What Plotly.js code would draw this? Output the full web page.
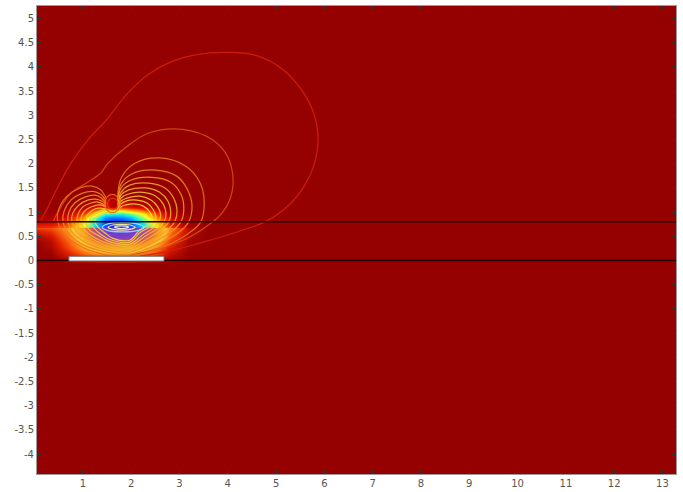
<!DOCTYPE html>
<html><head><meta charset="utf-8">
<script src="https://cdn.plot.ly/plotly-3.0.1.min.js"></script>
<style>html,body{margin:0;padding:0;background:#fff}#plot{width:683px;height:492px}</style>
</head><body><div id="plot"></div>
<script>
// ---- ticks ----
const xTickVals = [1,2,3,4,5,6,7,8,9,10,11,12,13];
const yTickVals = [-4,-3.5,-3,-2.5,-2,-1.5,-1,-0.5,0,0.5,1,1.5,2,2.5,3,3.5,4,4.5,5];
const yTickText = ['-4','-3.5','-3','-2.5','-2','-1.5','-1','-0.5','0','0.5','1','1.5','2','2.5','3','3.5','4','4.5','5'];

// ---- geometry ----
const interfaceLevels = [0, 0.8];
const stripX = [0.71, 2.68];
const stripY = [-0.01, 0.09];

// ---- colour field (estimated from colours) ----
const fieldUpperX = [0.0,0.35,0.7,1.0,1.25,1.45,1.62,1.8,2.0,2.25,2.5,2.8,3.2,3.6];
const fieldUpperY = [0.72,0.80,0.88,0.96,1.04,1.12,1.22,1.34];
const fieldUpperZ = [
  [0.80,0.78,0.70,0.50,0.22,0.04,0.00,0.00,0.04,0.22,0.50,0.78,0.95,1],
  [0.90,0.88,0.76,0.56,0.24,0.03,0.00,0.00,0.06,0.28,0.54,0.80,0.96,1],
  [0.96,0.93,0.82,0.64,0.36,0.12,0.08,0.10,0.18,0.40,0.63,0.85,0.98,1],
  [1,0.97,0.88,0.75,0.55,0.32,0.30,0.28,0.36,0.52,0.72,0.91,0.99,1],
  [1,1,0.94,0.86,0.73,0.60,0.56,0.58,0.64,0.73,0.85,0.96,1,1],
  [1,1,0.98,0.93,0.86,0.80,0.95,0.80,0.84,0.88,0.93,0.99,1,1],
  [1,1,1,0.97,0.94,0.86,0.92,0.86,0.92,0.95,0.98,1,1,1],
  [1,1,1,1,0.99,0.97,0.97,0.97,0.98,0.99,1,1,1,1]
];
const fieldLowerX = [0.0,0.35,0.7,1.0,1.25,1.5,1.75,2.0,2.25,2.5,2.8,3.2,3.6];
const fieldLowerY = [0.02,0.14,0.26,0.38,0.50,0.62,0.70];
const fieldLowerZ = [
  [1,1,0.97,0.94,0.92,0.92,0.92,0.92,0.93,0.95,0.98,1,1],
  [1,0.99,0.90,0.80,0.74,0.72,0.72,0.72,0.75,0.82,0.94,1,1],
  [1,0.97,0.84,0.70,0.62,0.58,0.56,0.58,0.63,0.74,0.90,0.99,1],
  [1,0.95,0.80,0.64,0.48,0.34,0.28,0.32,0.42,0.62,0.85,0.98,1],
  [0.97,0.92,0.76,0.58,0.30,0.12,0.08,0.10,0.20,0.50,0.80,0.97,1],
  [0.90,0.86,0.72,0.54,0.22,0.06,0.03,0.05,0.14,0.42,0.76,0.96,1],
  [0.82,0.80,0.70,0.52,0.20,0.03,0.00,0.03,0.12,0.40,0.74,0.95,1]
];

// ---- contour lines ----
const contourC1X = [0.13,0.28,0.48,0.75,1.10,1.48,1.93,2.39,2.86,3.38,3.98,4.58,5.14,5.56,5.80,5.87,5.80,5.62,5.29,4.81,4.19,3.49,2.80,2.18];
const contourC1Y = [0.84,1.11,1.52,2.01,2.49,2.90,3.46,3.87,4.12,4.26,4.30,4.24,3.95,3.48,2.98,2.49,2.03,1.60,1.17,0.82,0.59,0.38,0.20,0.09];
const contourC2X = [0.38,0.54,0.75,1.10,1.37,1.52,1.89,2.35,3.07,3.69,4.00,4.11,4.04,3.88,3.69,3.22,2.80,2.39,1.97];
const contourC2Y = [0.80,1.10,1.39,1.62,1.81,2.01,2.34,2.63,2.71,2.49,2.14,1.66,1.25,0.98,0.80,0.49,0.32,0.20,0.11];

const lobe1X = [1.48,1.37,1.19,0.94,0.67,0.50,0.48,0.61,0.94,1.43,1.97,2.70,3.17,3.44,3.51,3.42,3.13,2.59,2.08,1.79,1.72];
const lobe1Y = [1.29,1.46,1.54,1.50,1.33,1.06,0.80,0.55,0.30,0.13,0.09,0.30,0.55,0.80,1.25,1.62,1.95,2.12,2.01,1.70,1.29];
const lobe2X = [1.48,1.37,1.21,0.98,0.75,0.61,0.59,0.71,1.02,1.48,1.97,2.55,2.97,3.19,3.26,3.17,2.95,2.51,2.01,1.79,1.72];
const lobe2Y = [1.23,1.37,1.43,1.39,1.25,1.02,0.80,0.55,0.32,0.18,0.13,0.34,0.57,0.80,1.13,1.46,1.74,1.87,1.79,1.58,1.23];
const lobe3X = [1.48,1.39,1.25,1.04,0.83,0.71,0.69,0.79,1.08,1.50,1.97,2.47,2.82,3.03,3.09,3.03,2.82,2.43,1.99,1.79,1.72];
const lobe3Y = [1.19,1.29,1.35,1.31,1.19,1.00,0.80,0.57,0.36,0.22,0.18,0.38,0.59,0.80,1.08,1.37,1.62,1.72,1.66,1.50,1.19];
const lobe4X = [1.48,1.39,1.27,1.10,0.92,0.79,0.77,0.88,1.14,1.52,1.97,2.41,2.72,2.90,2.95,2.88,2.70,2.37,1.97,1.79,1.72];
const lobe4Y = [1.17,1.23,1.27,1.25,1.15,0.98,0.80,0.59,0.40,0.26,0.22,0.42,0.61,0.80,1.04,1.29,1.50,1.60,1.56,1.41,1.17];
const lobe5X = [1.48,1.41,1.31,1.17,1.00,0.90,0.88,0.96,1.21,1.54,1.97,2.35,2.61,2.78,2.82,2.76,2.59,2.30,1.95,1.79,1.72];
const lobe5Y = [1.13,1.17,1.21,1.19,1.11,0.96,0.80,0.61,0.44,0.30,0.26,0.46,0.63,0.80,1.00,1.23,1.41,1.50,1.46,1.35,1.13];
const lobe6X = [1.48,1.43,1.35,1.23,1.08,0.98,0.96,1.04,1.27,1.56,1.97,2.30,2.53,2.68,2.72,2.66,2.51,2.24,1.93,1.79,1.72];
const lobe6Y = [1.11,1.13,1.15,1.13,1.06,0.94,0.80,0.63,0.46,0.34,0.30,0.51,0.65,0.80,0.98,1.17,1.33,1.41,1.37,1.29,1.11];
const lobe7X = [1.50,1.39,1.29,1.17,1.08,1.06,1.12,1.33,1.58,1.97,2.26,2.45,2.57,2.61,2.55,2.41,2.18,1.91,1.79,1.72];
const lobe7Y = [1.06,1.08,1.08,1.02,0.92,0.80,0.65,0.51,0.38,0.34,0.55,0.67,0.80,0.94,1.11,1.25,1.33,1.29,1.23,1.06];
const lobe8X = [1.52,1.43,1.35,1.25,1.17,1.14,1.23,1.39,1.60,1.97,2.20,2.37,2.49,2.51,2.45,2.33,2.12,1.89,1.79,1.72];
const lobe8Y = [1.04,1.04,1.02,0.98,0.90,0.80,0.67,0.53,0.42,0.38,0.59,0.69,0.80,0.92,1.06,1.19,1.25,1.23,1.17,1.04];
const lobe9X = [1.56,1.50,1.41,1.33,1.27,1.25,1.31,1.46,1.62,1.97,2.16,2.30,2.41,2.43,2.37,2.24,2.06,1.89,1.79,1.72];
const lobe9Y = [1.00,1.00,0.98,0.94,0.88,0.80,0.69,0.57,0.46,0.42,0.61,0.71,0.80,0.90,1.02,1.13,1.17,1.15,1.11,1.00];

const coreOuterX = [1.40,1.52,1.80,2.12,2.27,2.12,1.80,1.52,1.40];
const coreOuterY = [0.69,0.76,0.785,0.76,0.69,0.62,0.595,0.62,0.69];
const coreMidX = [1.52,1.62,1.80,1.98,2.08,1.98,1.80,1.62,1.52];
const coreMidY = [0.69,0.735,0.75,0.735,0.69,0.645,0.63,0.645,0.69];
const coreInnerX = [1.65,1.71,1.80,1.89,1.95,1.89,1.80,1.71,1.65];
const coreInnerY = [0.69,0.71,0.718,0.71,0.69,0.67,0.662,0.67,0.69];

const bumpOuterX = [1.45,1.50,1.61,1.72,1.78,1.72,1.61,1.50,1.45];
const bumpOuterY = [1.17,1.31,1.37,1.31,1.17,1.04,0.99,1.04,1.17];
const bumpInnerX = [1.51,1.55,1.62,1.69,1.73,1.69,1.62,1.55,1.51];
const bumpInnerY = [1.17,1.26,1.29,1.26,1.17,1.08,1.05,1.08,1.17];

// ---- styles ----
const bg = '#950000';
const upperScale = [[0,'#1428ff'],[0.12,'#0a8cff'],[0.24,'#00e4ff'],[0.36,'#6cff8a'],[0.5,'#f8ff20'],[0.63,'#ffa000'],[0.78,'#f02000'],[0.9,'#c00000'],[1,bg]];
const lowerScale = [[0,'#5a3ad8'],[0.12,'#8a40bc'],[0.26,'#c84a88'],[0.4,'#f06a34'],[0.54,'#ffa020'],[0.66,'#ffc830'],[0.78,'#ff6a10'],[0.9,'#dc1c00'],[1,bg]];

const lines = [
  [contourC1X, contourC1Y, '#d2200c'],
  [contourC2X, contourC2Y, '#dc4812'],
  [lobe1X, lobe1Y, '#e2761c'],
  [lobe2X, lobe2Y, '#e6861e'],
  [lobe3X, lobe3Y, '#ea9622'],
  [lobe4X, lobe4Y, '#eca426'],
  [lobe5X, lobe5Y, '#eeb02a'],
  [lobe6X, lobe6Y, '#f0ba2e'],
  [lobe7X, lobe7Y, '#f2c432'],
  [lobe8X, lobe8Y, '#f4ce38'],
  [lobe9X, lobe9Y, '#f6d840'],
  [coreOuterX, coreOuterY, '#90ecff'],
  [coreMidX, coreMidY, '#fffa90'],
  [coreInnerX, coreInnerY, '#ffffe0'],
  [bumpOuterX, bumpOuterY, '#ec6a12'],
  [bumpInnerX, bumpInnerY, '#e43e10']
];

const traces = [
  {type:'heatmap', x:fieldLowerX, y:fieldLowerY, z:fieldLowerZ, colorscale:lowerScale, zmin:0, zmax:1, zsmooth:'best', showscale:false, hoverinfo:'skip'},
  {type:'heatmap', x:fieldUpperX, y:fieldUpperY, z:fieldUpperZ, colorscale:upperScale, zmin:0, zmax:1, zsmooth:'best', showscale:false, hoverinfo:'skip'}
];
lines.forEach(l => traces.push({
  type:'scatter', mode:'lines', x:l[0], y:l[1], opacity:0.9,
  line:{color:l[2], width:1.25, shape:'spline', smoothing:1},
  hoverinfo:'skip', showlegend:false
}));

const shapes = interfaceLevels.map(v => ({
  type:'line', xref:'paper', yref:'y', x0:0, x1:1, y0:v, y1:v,
  line:{color:'#200000', width:1.5}
}));
shapes.push({type:'rect', xref:'x', yref:'y', x0:stripX[0], x1:stripX[1], y0:stripY[0], y1:stripY[1],
  fillcolor:'#ffffff', line:{color:'#6a6a6a', width:1}});

const tickFont = {family:'DejaVu Sans, sans-serif', size:10, color:'#555'};
const layout = {
  width:683, height:492,
  margin:{l:37, r:7, t:6, b:18, pad:0},
  paper_bgcolor:'#ffffff', plot_bgcolor:bg,
  showlegend:false,
  xaxis:{range:[0.05,13.28], tickvals:xTickVals, ticks:'inside', ticklen:4, tickcolor:'#333',
         showline:true, linecolor:'#9a9a9a', linewidth:1, mirror:'ticks',
         showgrid:false, zeroline:false, tickfont:tickFont, fixedrange:true},
  yaxis:{range:[-4.41,5.26], tickvals:yTickVals, ticktext:yTickText, ticks:'inside', ticklen:4, tickcolor:'#333',
         showline:true, linecolor:'#9a9a9a', linewidth:1, mirror:'ticks',
         showgrid:false, zeroline:false, tickfont:tickFont, fixedrange:true},
  shapes:shapes
};
Plotly.newPlot('plot', traces, layout, {staticPlot:true, displayModeBar:false});
</script></body></html>
